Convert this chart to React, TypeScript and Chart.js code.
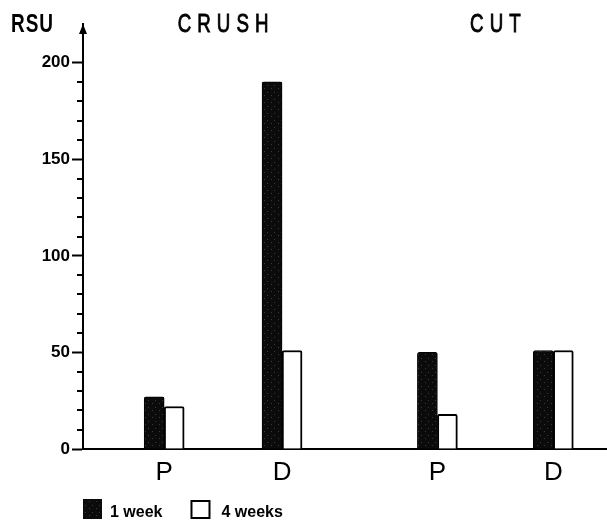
import React, { useEffect, useRef } from "react";
import { Chart, registerables } from "chart.js";

Chart.register(...registerables);

// ---- data ----
const categories = ["P", "D", "P", "D"];
const groups = ["CRUSH", "CUT"];
const seriesNames = ["1 week", "4 weeks"];
const oneWeek = [27, 190, 50, 51];
const fourWeeks = [22, 51, 18, 51];
const yTickLabels = [0, 50, 100, 150, 200];
const yAxisTitle = "RSU";

// ---- layout (x-axis scale units, not pixels) ----
const slotPositions = [2.08, 5.1, 9.08, 12.05];
const X_MAX = 13.4;
const Y_MAX = 220;

const FONT = '"Liberation Sans", Arial, sans-serif';

function makePattern(): CanvasPattern | string {
  const c = document.createElement("canvas");
  c.width = 7;
  c.height = 7;
  const g = c.getContext("2d");
  if (!g) return "#111";
  g.fillStyle = "#0b0b0b";
  g.fillRect(0, 0, 7, 7);
  g.fillStyle = "#3a3a3a";
  g.fillRect(1, 1, 1, 1);
  g.fillRect(5, 4, 1, 1);
  const p = g.createPattern(c, "repeat");
  return p || "#111";
}

function drawSpaced(
  ctx: CanvasRenderingContext2D,
  text: string,
  cx: number,
  y: number,
  spacing: number,
  sx: number,
  stroke: number
) {
  const chars = text.split("");
  const widths = chars.map((ch) => ctx.measureText(ch).width * sx);
  const total = widths.reduce((a, b) => a + b, 0) + spacing * (chars.length - 1);
  let x = cx - total / 2;
  ctx.textAlign = "left";
  chars.forEach((ch, i) => {
    ctx.save();
    ctx.translate(x, y);
    ctx.scale(sx, 1);
    ctx.fillText(ch, 0, 0);
    if (stroke > 0) {
      ctx.lineWidth = stroke;
      ctx.strokeStyle = "#000";
      ctx.strokeText(ch, 0, 0);
    }
    ctx.restore();
    x += widths[i] + spacing;
  });
}

export default function App() {
  const ref = useRef<HTMLCanvasElement | null>(null);

  useEffect(() => {
    const canvas = ref.current;
    if (!canvas) return;
    const pattern = makePattern();

    const decor = {
      id: "decor",
      afterDraw(chart: any) {
        const { ctx, chartArea, scales } = chart;
        const ys = scales.y;
        const xs = scales.x;
        ctx.save();
        ctx.strokeStyle = "#000";
        ctx.fillStyle = "#000";
        ctx.lineWidth = 2;
        // minor ticks
        for (let v = 10; v < yTickLabels[yTickLabels.length - 1]; v += 10) {
          if (yTickLabels.includes(v)) continue;
          const py = Math.round(ys.getPixelForValue(v));
          ctx.beginPath();
          ctx.moveTo(chartArea.left - 6, py);
          ctx.lineTo(chartArea.left, py);
          ctx.stroke();
        }
        // arrow head
        const ax = chartArea.left;
        const top = chartArea.top;
        ctx.beginPath();
        ctx.moveTo(ax, top);
        ctx.lineTo(ax - 4, top + 10);
        ctx.lineTo(ax + 4, top + 10);
        ctx.closePath();
        ctx.fill();
        // y title
        ctx.textBaseline = "alphabetic";
        ctx.font = `bold 25px ${FONT}`;
        drawSpaced(ctx, yAxisTitle, 32, 32, 1, 0.76, 0);
        // group titles
        ctx.font = `normal 26px ${FONT}`;
        groups.forEach((g, gi) => {
          const cx = xs.getPixelForValue((slotPositions[gi * 2] + slotPositions[gi * 2 + 1]) / 2);
          drawSpaced(ctx, g, cx, 32, 6, 0.72, 0.9);
        });
        // legend
        const lx = chartArea.left;
        const ly = chartArea.bottom + 50;
        ctx.font = `bold 16px ${FONT}`;
        ctx.fillStyle = pattern as any;
        ctx.fillRect(lx, ly, 19, 20);
        ctx.fillStyle = "#000";
        ctx.textAlign = "left";
        ctx.fillText(seriesNames[0], lx + 27, ly + 18);
        const w0 = ctx.measureText(seriesNames[0]).width;
        const bx = lx + 27 + w0 + 28;
        ctx.fillStyle = "#fff";
        ctx.fillRect(bx, ly + 1, 20, 19);
        ctx.lineWidth = 2;
        ctx.strokeStyle = "#000";
        ctx.strokeRect(bx + 1, ly + 2, 18, 17);
        ctx.fillStyle = "#000";
        ctx.fillText(seriesNames[1], bx + 31, ly + 18);
        ctx.restore();
      },
    };

    const chart = new Chart(canvas, {
      type: "bar",
      data: {
        datasets: [
          {
            label: seriesNames[0],
            data: slotPositions.map((x, i) => ({ x, y: oneWeek[i] })),
            backgroundColor: pattern as any,
            borderColor: "#000",
            borderWidth: 1,
            borderRadius: 2,
            barThickness: 20,
          },
          {
            label: seriesNames[1],
            data: slotPositions.map((x, i) => ({ x, y: fourWeeks[i] })),
            backgroundColor: "#fff",
            borderColor: "#000",
            borderWidth: 2,
            borderRadius: 2,
            barThickness: 20,
          },
        ],
      },
      options: {
        animation: false,
        responsive: false,
        devicePixelRatio: 1,
        events: [],
        layout: { padding: { top: 24, right: 1, left: 0, bottom: 0 } },
        plugins: { legend: { display: false }, tooltip: { enabled: false }, title: { display: false } },
        scales: {
          x: {
            type: "linear",
            min: 0,
            max: X_MAX,
            offset: false,
            afterFit: (s: any) => {
              s.height = 72;
            },
            afterBuildTicks: (s: any) => {
              s.ticks = slotPositions.map((v) => ({ value: v }));
            },
            grid: { display: true, drawOnChartArea: false, drawTicks: false },
            border: { display: true, color: "#000", width: 2 },
            ticks: {
              autoSkip: false,
              maxRotation: 0,
              padding: 8,
              color: "#000",
              font: { family: FONT, size: 26, weight: "normal" },
              callback: (_v: any, i: number) => categories[i],
            },
          },
          y: {
            type: "linear",
            min: 0,
            max: Y_MAX,
            afterFit: (s: any) => {
              s.width = 83;
            },
            grid: {
              drawOnChartArea: false,
              drawTicks: true,
              tickLength: 11,
              tickWidth: 2,
              tickColor: (c: any) => (c.tick && yTickLabels.includes(c.tick.value) ? "#000" : "rgba(0,0,0,0)"),
            },
            border: { display: true, color: "#000", width: 2 },
            ticks: {
              stepSize: 10,
              autoSkip: false,
              padding: 2,
              color: "#000",
              font: { family: FONT, size: 17, weight: "bold" },
              callback: (v: any) => (yTickLabels.includes(v) ? String(v) : ""),
            },
          },
        },
      },
      plugins: [decor],
    } as any);

    return () => chart.destroy();
  }, []);

  return (
    <div style={{ position: "fixed", left: 0, top: 0, width: 607, height: 521, background: "#fff" }}>
      <canvas ref={ref} width={607} height={521} style={{ display: "block" }} />
    </div>
  );
}
